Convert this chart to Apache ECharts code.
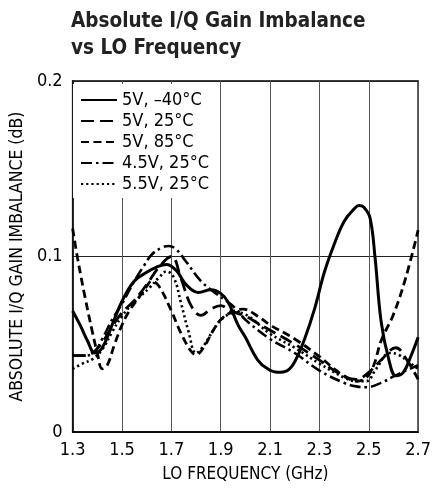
<!DOCTYPE html>
<html>
<head>
<meta charset="utf-8">
<script src="https://cdn.jsdelivr.net/npm/echarts@6/dist/echarts.min.js"></script>
<style>
html,body{margin:0;padding:0;background:#fff;}
#chart{width:434px;height:488px;}
</style>
</head>
<body>
<div id="chart"></div>
<script>
// Tick labels
const xTicks = [1.3, 1.5, 1.7, 1.9, 2.1, 2.3, 2.5, 2.7];
const yTicks = [0, 0.1, 0.2];
const seriesNames = ['5V, \u201340\u00B0C', '5V, 25\u00B0C', '5V, 85\u00B0C', '4.5V, 25\u00B0C', '5.5V, 25\u00B0C'];

// [LO frequency (GHz), absolute I/Q gain imbalance (dB)]
const s5vM40 = [[1.30,0.069],[1.33,0.061],[1.36,0.052],[1.39,0.045],[1.42,0.048],[1.46,0.061],[1.50,0.0745],[1.55,0.086],[1.60,0.091],[1.64,0.094],[1.68,0.0955],[1.72,0.092],[1.76,0.084],[1.81,0.0795],[1.86,0.081],[1.90,0.079],[1.93,0.074],[1.97,0.061],[2.00,0.054],[2.05,0.041],[2.09,0.036],[2.13,0.034],[2.17,0.035],[2.20,0.040],[2.24,0.053],[2.28,0.070],[2.32,0.091],[2.36,0.107],[2.40,0.120],[2.44,0.127],[2.46,0.129],[2.48,0.128],[2.505,0.122],[2.525,0.100],[2.55,0.063],[2.58,0.042],[2.61,0.032],[2.64,0.034],[2.67,0.043],[2.70,0.054]];
const s5v25 = [[1.30,0.0435],[1.34,0.0435],[1.38,0.045],[1.42,0.051],[1.46,0.060],[1.50,0.068],[1.55,0.075],[1.60,0.084],[1.65,0.094],[1.70,0.100],[1.74,0.087],[1.78,0.072],[1.82,0.0665],[1.86,0.070],[1.90,0.072],[1.94,0.069],[2.00,0.066],[2.05,0.062],[2.10,0.058],[2.20,0.050],[2.30,0.041],[2.36,0.035],[2.41,0.031],[2.45,0.030],[2.50,0.034],[2.55,0.041],[2.61,0.048],[2.65,0.042],[2.70,0.030]];
const s5v85 = [[1.30,0.116],[1.32,0.099],[1.35,0.077],[1.38,0.057],[1.40,0.045],[1.42,0.036],[1.44,0.038],[1.47,0.050],[1.50,0.061],[1.53,0.069],[1.57,0.077],[1.60,0.083],[1.62,0.086],[1.65,0.083],[1.70,0.069],[1.74,0.056],[1.78,0.046],[1.80,0.044],[1.83,0.048],[1.87,0.058],[1.90,0.064],[1.94,0.068],[1.99,0.070],[2.05,0.066],[2.10,0.061],[2.20,0.053],[2.30,0.043],[2.36,0.036],[2.40,0.032],[2.45,0.029],[2.49,0.031],[2.52,0.038],[2.55,0.052],[2.60,0.067],[2.65,0.088],[2.70,0.115]];
const s45v25 = [[1.30,0.0435],[1.34,0.0435],[1.385,0.045],[1.42,0.053],[1.46,0.064],[1.50,0.073],[1.55,0.086],[1.59,0.095],[1.62,0.101],[1.66,0.105],[1.69,0.106],[1.72,0.104],[1.76,0.097],[1.82,0.086],[1.875,0.0795],[1.93,0.074],[1.97,0.069],[2.00,0.064],[2.10,0.053],[2.20,0.045],[2.30,0.035],[2.40,0.028],[2.45,0.026],[2.49,0.0255],[2.55,0.028],[2.605,0.032],[2.65,0.035],[2.70,0.038]];
const s55v25 = [[1.30,0.036],[1.34,0.039],[1.38,0.0415],[1.42,0.047],[1.46,0.057],[1.50,0.066],[1.55,0.074],[1.61,0.082],[1.65,0.088],[1.68,0.0915],[1.71,0.088],[1.74,0.073],[1.77,0.057],[1.80,0.045],[1.83,0.049],[1.87,0.058],[1.91,0.065],[1.96,0.068],[2.00,0.067],[2.10,0.056],[2.20,0.048],[2.30,0.039],[2.40,0.031],[2.45,0.029],[2.49,0.029],[2.53,0.036],[2.585,0.045],[2.62,0.044],[2.66,0.040],[2.70,0.036]];

const FONT = '"Liberation Sans Narrow", "DejaVu Sans Condensed", "Liberation Sans", sans-serif';

const styles = [
  {width: 3, type: 'solid'},
  {width: 2.8, type: [13, 6]},
  {width: 2.8, type: [8, 4.5]},
  {width: 2.6, type: [11, 4, 2.5, 4]},
  {width: 2.6, type: [2.2, 3]}
];
const datasets = [s5vM40, s5v25, s5v85, s45v25, s55v25];

const chart = echarts.init(document.getElementById('chart'), null, {renderer: 'canvas'});
chart.setOption({
  animation: false,
  backgroundColor: '#fff',
  title: {
    text: 'Absolute I/Q Gain Imbalance\nvs LO Frequency',
    left: 66, top: 3,
    textStyle: {fontFamily: FONT, fontWeight: 'bold', fontSize: 20.5, lineHeight: 27, color: '#222'}
  },
  legend: {
    orient: 'vertical',
    left: 73, top: 84,
    padding: [7, 6, 5, 7],
    itemGap: 3,
    itemWidth: 36, itemHeight: 14,
    backgroundColor: '#fff',
    itemStyle: {opacity: 0},
    textStyle: {fontFamily: FONT, fontSize: 18, color: '#000'},
    data: seriesNames
  },
  grid: {left: 72, right: 10, top: 81, bottom: 55, show: true, borderColor: '#000', borderWidth: 1.5, containLabel: false},
  xAxis: {
    type: 'value', min: xTicks[0], max: xTicks[xTicks.length-1], interval: 0.2,
    name: 'LO FREQUENCY (GHz)', nameLocation: 'middle', nameGap: 34,
    nameTextStyle: {fontFamily: FONT, fontSize: 17, color: '#000'},
    axisLine: {lineStyle: {color: '#000', width: 1.5}},
    axisTick: {show: false},
    axisLabel: {fontFamily: FONT, fontSize: 18, color: '#000', margin: 9, formatter: v => v.toFixed(1)},
    splitLine: {show: true, lineStyle: {color: '#555', width: 1}}
  },
  yAxis: {
    type: 'value', min: yTicks[0], max: yTicks[yTicks.length-1], interval: 0.1,
    name: 'ABSOLUTE I/Q GAIN IMBALANCE (dB)', nameLocation: 'middle', nameGap: 46,
    nameTextStyle: {fontFamily: FONT, fontSize: 17.5, color: '#000'},
    axisLine: {lineStyle: {color: '#000', width: 1.5}},
    axisTick: {show: false},
    axisLabel: {fontFamily: FONT, fontSize: 18, color: '#000', margin: 10, formatter: v => v === 0 ? '0' : v.toFixed(1)},
    splitLine: {show: true, lineStyle: {color: '#222', width: 1}}
  },
  series: datasets.map((d, i) => ({
    name: seriesNames[i],
    type: 'line',
    data: d,
    smooth: 0.4,
    symbol: 'none',
    showSymbol: false,
    lineStyle: {color: '#000', width: styles[i].width, type: styles[i].type, cap: 'butt'},
    itemStyle: {color: '#000'},
    z: 3
  }))
});
</script>
</body>
</html>
